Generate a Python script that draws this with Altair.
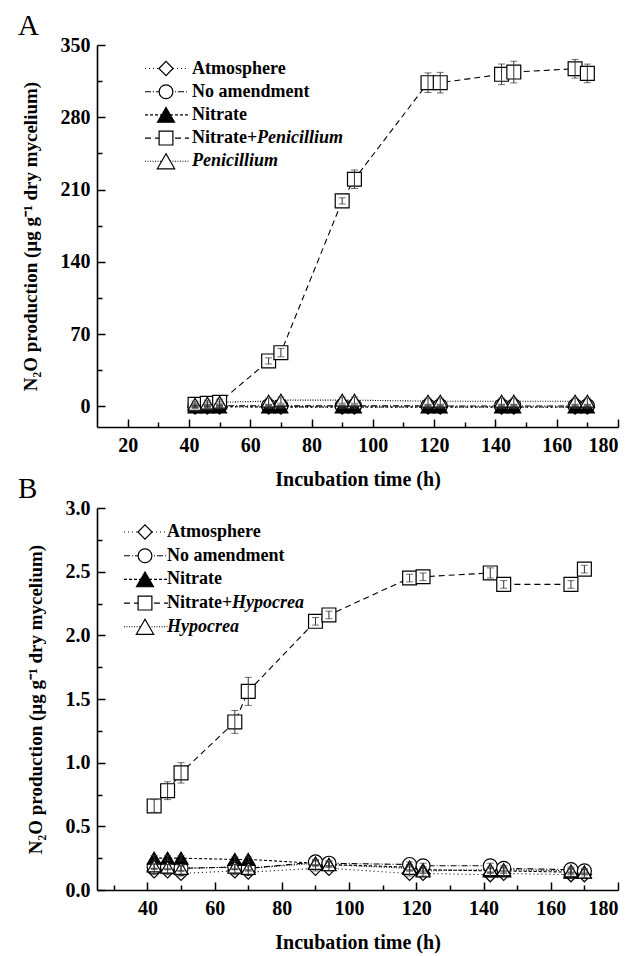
import altair as alt
import pandas as pd

FONT = "Liberation Serif"

times = [42, 46, 50, 66, 70, 90, 94, 118, 122, 142, 146, 166, 170]

# ---------- Panel A (Penicillium) ----------
a_names = ["Atmosphere", "No amendment", "Nitrate", "Nitrate+Penicillium", "Penicillium"]
a_atmosphere = [-0.8, -0.7, -0.6, -0.7, -0.7, -0.8, -0.8, -0.7, -0.7, -0.8, -0.8, -0.8, -0.8]
a_no_amend = [0.5, 0.6, 0.6, 0.5, 0.5, 0.5, 0.5, 0.4, 0.4, 0.4, 0.4, 0.4, 0.4]
a_nitrate = [-0.5, -0.4, -0.4, -0.5, -0.5, -0.6, -0.6, -0.6, -0.6, -0.6, -0.6, -0.6, -0.6]
a_nitrate_fungus = [2, 3, 4, 44, 52, 199, 220, 313.5, 313.5, 321.6, 323.8, 327, 322.5]
a_fungus = [2, 3, 4, 5, 6, 6, 6, 5, 5, 5, 5, 5, 5]
a_err_atmosphere = [1, 1, 1, 1, 1, 1, 1, 1, 1, 1, 1, 1, 1]
a_err_no_amend = [1, 1, 1, 1, 1, 1, 1, 1, 1, 1, 1, 1, 1]
a_err_nitrate = [1, 1, 1, 1, 1, 1, 1, 1, 1, 1, 1, 1, 1]
a_err_nitrate_fungus = [1, 1, 1, 3, 4, 3, 9, 9.5, 10, 10, 10.5, 9, 9]
a_err_fungus = [3, 3, 3, 3, 3, 3, 3, 3, 3, 3, 3, 3, 3]

# ---------- Panel B (Hypocrea) ----------
b_names = ["Atmosphere", "No amendment", "Nitrate", "Nitrate+Hypocrea", "Hypocrea"]
b_atmosphere = [0.15, 0.15, 0.13, 0.15, 0.14, 0.17, 0.17, 0.13, 0.13, 0.12, 0.13, 0.12, 0.12]
b_no_amend = [0.18, 0.18, 0.17, 0.18, 0.17, 0.22, 0.21, 0.20, 0.19, 0.19, 0.17, 0.16, 0.15]
b_nitrate = [0.25, 0.25, 0.25, 0.24, 0.24, 0.21, 0.20, 0.18, 0.16, 0.15, 0.15, 0.14, 0.14]
b_nitrate_fungus = [0.66, 0.78, 0.92, 1.32, 1.56, 2.11, 2.16, 2.45, 2.46, 2.49, 2.40, 2.40, 2.52]
b_fungus = [0.19, 0.18, 0.17, 0.18, 0.17, 0.21, 0.20, 0.17, 0.15, 0.16, 0.16, 0.15, 0.14]
b_err_small = [0.02, 0.02, 0.02, 0.02, 0.02, 0.02, 0.02, 0.02, 0.02, 0.02, 0.02, 0.02, 0.02]
b_err_nitrate_fungus = [0.05, 0.07, 0.08, 0.09, 0.11, 0.03, 0.03, 0.03, 0.03, 0.04, 0.03, 0.03, 0.03]

# axis ticks
a_x_major = [20, 40, 60, 80, 100, 120, 140, 160, 180]
a_x_minor = [30, 50, 70, 90, 110, 130, 150, 170]
a_y_major = [0, 70, 140, 210, 280, 350]
a_y_minor = [35, 105, 175, 245, 315]
b_x_major = [40, 60, 80, 100, 120, 140, 160, 180]
b_x_minor = [30, 50, 70, 90, 110, 130, 150, 170]
b_y_major = [0.0, 0.5, 1.0, 1.5, 2.0, 2.5, 3.0]
b_y_minor = [0.25, 0.75, 1.25, 1.75, 2.25, 2.75]

# order: Atmosphere, No amendment, Nitrate, Nitrate+fungus, fungus
SHAPES = ["diamond", "circle", "triangle-up", "square", "triangle-up"]
FILLS = ["white", "white", "black", "white", "white"]
DASHES = [[1, 3], [6, 2, 1, 2], [3, 2], [6, 4], [1, 1.5]]
SIZES = [200, 190, 290, 190, 300]


def long_df(names, values, errs):
    rows = []
    for z, (name, vals, es) in enumerate(zip(names, values, errs)):
        for t, v, e in zip(times, vals, es):
            rows.append({"series": name, "t": t, "v": v, "err": e, "z": z})
    return pd.DataFrame(rows)


def tick_axis(values, orient, size):
    return alt.Axis(values=values, orient=orient, offset=-size, tickSize=size, ticks=True,
                    tickColor="black", tickWidth=1.5, labels=False, domain=False,
                    grid=False, title="")


def panel(df, names, letter, xdom, xmaj, xmin, ydom, ymaj, ymin, yfmt,
          leg_x_sym, leg_x_text, leg_y0, leg_dy, italic_word):
    xs = alt.Scale(domain=xdom, nice=False, zero=False)
    ys = alt.Scale(domain=ydom, nice=False, zero=False)
    shape_s = alt.Scale(domain=names, range=SHAPES)
    fill_s = alt.Scale(domain=names, range=FILLS)
    dash_s = alt.Scale(domain=names, range=DASHES)
    size_s = alt.Scale(domain=names, range=SIZES)

    main_x = alt.Axis(values=xmaj, orient="bottom", ticks=False, grid=False,
                      labelFont=FONT, labelFontWeight="bold", labelFontSize=20,
                      labelColor="black", labelPadding=8,
                      domainColor="black", domainWidth=1.6,
                      title="Incubation time (h)", titleFont=FONT,
                      titleFontWeight="bold", titleFontSize=20, titleColor="black",
                      titlePadding=14)
    main_y = alt.Axis(values=ymaj, orient="left", ticks=False, grid=False, format=yfmt,
                      labelFont=FONT, labelFontWeight="bold", labelFontSize=20,
                      labelColor="black", labelPadding=7,
                      domainColor="black", domainWidth=1.6,
                      title="N₂O production (µg g⁻¹ dry mycelium)", titleFont=FONT,
                      titleFontWeight="bold", titleFontSize=19, titleColor="black",
                      titlePadding=20)

    base = alt.Chart(df)
    lines = base.mark_line(strokeWidth=1.1, color="black").encode(
        x=alt.X("t:Q", scale=xs, axis=main_x),
        y=alt.Y("v:Q", scale=ys, axis=main_y),
        strokeDash=alt.StrokeDash("series:N", scale=dash_s, legend=None),
        order=alt.Order("t:Q"),
    )
    points = base.mark_point(filled=True, stroke="black", strokeWidth=1.2, opacity=1).encode(
        x=alt.X("t:Q", scale=xs, axis=None),
        y=alt.Y("v:Q", scale=ys, axis=None),
        shape=alt.Shape("series:N", scale=shape_s, legend=None),
        fill=alt.Fill("series:N", scale=fill_s, legend=None),
        size=alt.Size("series:N", scale=size_s, legend=None),
        order=alt.Order("z:Q"),
    )
    eb = base.transform_calculate(lo="datum.v - datum.err", hi="datum.v + datum.err")
    bars = eb.mark_rule(color="#333333", strokeWidth=1).encode(
        x=alt.X("t:Q", scale=xs, axis=None),
        y=alt.Y("lo:Q", scale=ys, axis=None),
        y2="hi:Q",
    )
    caps_lo = eb.mark_tick(orient="horizontal", size=7, thickness=1, color="#333333").encode(
        x=alt.X("t:Q", scale=xs, axis=None),
        y=alt.Y("lo:Q", scale=ys, axis=None),
    )
    caps_hi = eb.mark_tick(orient="horizontal", size=7, thickness=1, color="#333333").encode(
        x=alt.X("t:Q", scale=xs, axis=None),
        y=alt.Y("hi:Q", scale=ys, axis=None),
    )
    major = base.mark_point(opacity=0).encode(
        x=alt.X("t:Q", scale=xs, axis=tick_axis(xmaj, "bottom", 8)),
        y=alt.Y("v:Q", scale=ys, axis=tick_axis(ymaj, "left", 8)),
    )
    minor = base.mark_point(opacity=0).encode(
        x=alt.X("t:Q", scale=xs, axis=tick_axis(xmin, "bottom", 5)),
        y=alt.Y("v:Q", scale=ys, axis=tick_axis(ymin, "left", 5)),
    )

    layers = [lines, points, bars, caps_lo, caps_hi, major, minor]

    # manual legend (inside plot, upper left)
    for i, name in enumerate(names):
        yy = leg_y0 + i * leg_dy
        one = alt.Chart(pd.DataFrame({"label": [name]}))
        layers.append(one.mark_rule(strokeDash=DASHES[i], strokeWidth=1.1, color="black").encode(
            x=alt.value(leg_x_sym - 21), x2=alt.value(leg_x_sym + 23), y=alt.value(yy)))
        layers.append(one.mark_point(shape=SHAPES[i], size=SIZES[i], filled=True, fill=FILLS[i],
                                     stroke="black", strokeWidth=1.2, opacity=1).encode(
            x=alt.value(leg_x_sym), y=alt.value(yy)))
        if name == italic_word:
            layers.append(one.mark_text(align="left", baseline="middle", font=FONT, fontSize=18,
                                        fontWeight="bold", fontStyle="italic", color="black").encode(
                x=alt.value(leg_x_text), y=alt.value(yy), text="label:N"))
        elif name.endswith("+" + italic_word):
            plain = name[: -len(italic_word)]
            two = alt.Chart(pd.DataFrame({"a": [plain], "b": [italic_word]}))
            layers.append(two.mark_text(align="left", baseline="middle", font=FONT, fontSize=18,
                                        fontWeight="bold", color="black").encode(
                x=alt.value(leg_x_text), y=alt.value(yy), text="a:N"))
            layers.append(two.mark_text(align="left", baseline="middle", font=FONT, fontSize=18,
                                        fontWeight="bold", fontStyle="italic", color="black").encode(
                x=alt.value(leg_x_text + 65), y=alt.value(yy), text="b:N"))
        else:
            layers.append(one.mark_text(align="left", baseline="middle", font=FONT, fontSize=18,
                                        fontWeight="bold", color="black").encode(
                x=alt.value(leg_x_text), y=alt.value(yy), text="label:N"))

    return alt.layer(*layers).resolve_axis(x="independent", y="independent").properties(
        width=521, height=382,
        title=alt.TitleParams(letter, anchor="start", frame="group", dx=-79, font=FONT,
                              fontSize=29, fontWeight="normal", color="black", offset=-6),
    )


df_a = long_df(a_names,
               [a_atmosphere, a_no_amend, a_nitrate, a_nitrate_fungus, a_fungus],
               [a_err_atmosphere, a_err_no_amend, a_err_nitrate, a_err_nitrate_fungus, a_err_fungus])
df_b = long_df(b_names,
               [b_atmosphere, b_no_amend, b_nitrate, b_nitrate_fungus, b_fungus],
               [b_err_small, b_err_small, b_err_small, b_err_nitrate_fungus, b_err_small])

top = panel(df_a, a_names, "A", [10, 180], a_x_major, a_x_minor, [-20, 350], a_y_major,
            a_y_minor, "d", 69, 95, 23.5, 23.2, "Penicillium")
bottom = panel(df_b, b_names, "B", [25, 180], b_x_major, b_x_minor, [0, 3.0], b_y_major,
               b_y_minor, ".1f", 48, 70, 24, 23.7, "Hypocrea")

chart = alt.vconcat(top, bottom, spacing=81, bounds="flush").resolve_scale(
    shape="independent", fill="independent", strokeDash="independent", size="independent"
).properties(
    padding={"left": 10, "top": 4, "right": 5, "bottom": 5},
    background="white",
).configure_view(stroke=None)

chart.save("out.html", embed_options={"renderer": "svg", "actions": False})
